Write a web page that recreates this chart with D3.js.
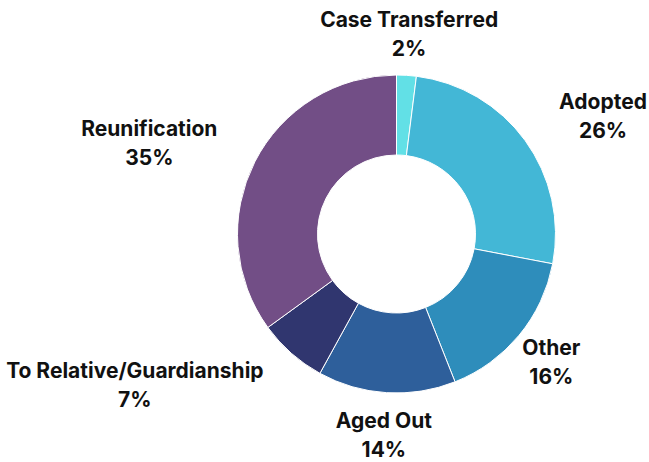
<!DOCTYPE html>
<html>
<head>
<meta charset="utf-8">
<script src="https://cdn.jsdelivr.net/npm/d3@7"></script>
<style>
  body { margin: 0; background: #fff; }
  svg text { font-family: Inter, "Noto Sans", sans-serif; font-weight: 700; fill: #111; }
</style>
</head>
<body>
<div id="chart"></div>
<script>
// chart data
const categories = ["Case Transferred", "Adopted", "Other", "Aged Out", "To Relative/Guardianship", "Reunification"];
const percents = [2, 26, 16, 14, 7, 35];
const colors = ["#62e0e6", "#43b7d6", "#2e8dbb", "#2e5f9b", "#30366f", "#724e86"];

const width = 649, height = 462;
const cx = 396.5, cy = 234;
const outerR = 159, innerR = 79, labelR = 201;

const svg = d3.select("#chart").append("svg")
    .attr("width", width)
    .attr("height", height);

const g = svg.append("g").attr("transform", `translate(${cx},${cy})`);

const data = categories.map((c, i) => ({ name: c, value: percents[i], color: colors[i] }));

const pie = d3.pie().value(d => d.value).sort(null);
const arcs = pie(data);

const arc = d3.arc().innerRadius(innerR).outerRadius(outerR);

g.selectAll("path.slice")
    .data(arcs)
    .enter()
    .append("path")
    .attr("class", "slice")
    .attr("d", arc)
    .attr("fill", d => d.data.color)
    .attr("stroke", "#fff")
    .attr("stroke-width", 1);

// labels: two centred lines, block pushed to one side depending on angle
const lineH = 29;
g.selectAll("text.label")
    .data(arcs)
    .enter()
    .append("text")
    .attr("class", "label")
    .attr("font-size", "21px")
    .attr("text-anchor", "middle")
    .each(function (d) {
        const a = (d.startAngle + d.endAngle) / 2;
        const deg = a * 180 / Math.PI;
        const x = Math.sin(a) * labelR;
        const y = -Math.cos(a) * labelR;
        const t = d3.select(this);
        const l1 = t.append("tspan").attr("y", y - lineH / 2 + 7.7).text(d.data.name);
        const l2 = t.append("tspan").attr("y", y + lineH / 2 + 7.7).text(d.data.value + "%");
        const w = l1.node().getComputedTextLength();
        let bx = x;
        if (deg > 20 && deg < 110) bx = x + w / 2;
        else if (deg > 200 && deg < 340) bx = x - w / 2;
        l1.attr("x", bx);
        l2.attr("x", bx);
    });
</script>
</body>
</html>
